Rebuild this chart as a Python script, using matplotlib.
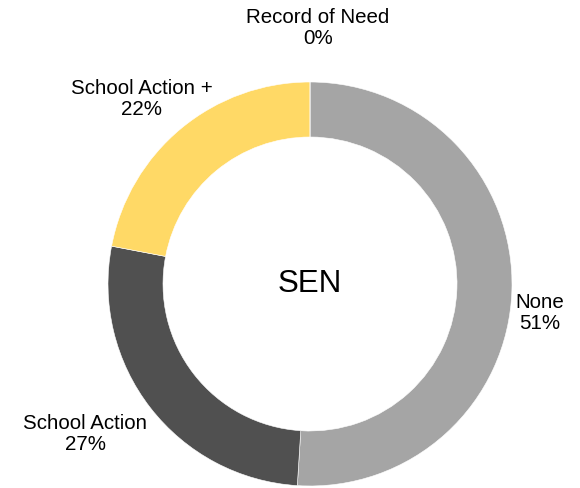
import matplotlib.pyplot as plt

plt.rcParams['font.family'] = ['Liberation Sans', 'DejaVu Sans']

categories = ['None', 'School Action', 'School Action +', 'Record of Need']
values = [51, 27, 22, 0]
colors = ['#A5A5A5', '#505050', '#FFD966', '#5B9BD5']

# label centres in pixel coords (y from top)
label_pos = [(540, 313), (85, 434), (142, 99), (318, 28)]

W, H = 580, 488
fig = plt.figure(figsize=(W / 100, H / 100), dpi=100)
ax = fig.add_axes([0, 0, 1, 1])

cx, cy = 310, H - 284
ax.pie(values, colors=colors, startangle=90, counterclock=False,
       center=(cx, cy), radius=202, frame=True,
       wedgeprops=dict(width=55, edgecolor='white', linewidth=0.4))
ax.set_xlim(0, W)
ax.set_ylim(0, H)
ax.set_aspect('equal')
ax.axis('off')

for cat, v, (x, y) in zip(categories, values, label_pos):
    ax.text(x, H - y, f"{cat}\n{v}%", ha='center', va='center',
            fontsize=14.8, color='#000000', linespacing=1.1)

ax.text(cx, cy, 'SEN', ha='center', va='center', fontsize=22.5)

fig.savefig('out.png', dpi=100)
